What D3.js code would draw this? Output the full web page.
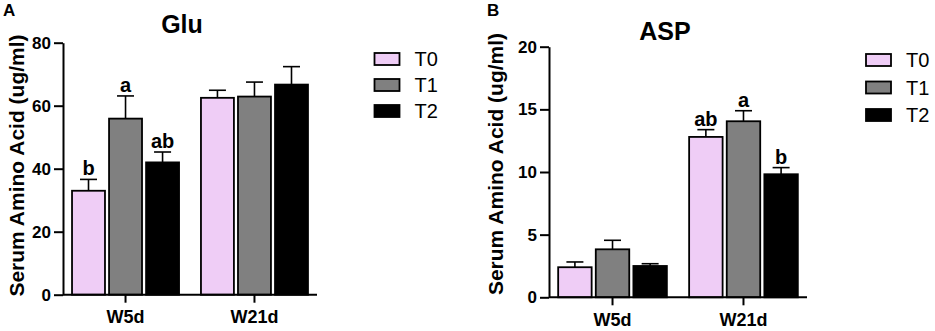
<!DOCTYPE html>
<html>
<head>
<meta charset="utf-8">
<script src="https://cdn.jsdelivr.net/npm/d3@7"></script>
<style>
  body { margin: 0; background: #fff; }
  svg { display: block; font-family: "Liberation Sans", Arial, sans-serif; }
</style>
</head>
<body>
<svg id="chart" width="935" height="331"></svg>
<script>
// data
const groups = ["W5d", "W21d"];
const treatments = ["T0", "T1", "T2"];
const treatmentColors = ["#efcdf6", "#808080", "#000000"];

// Glu (panel A): mean and mean+SEM per group, in treatment order
const gluMeans = [[33.0, 55.9, 42.0], [62.5, 62.9, 66.7]];
const gluErrTop = [[36.6, 63.1, 45.3], [64.9, 67.5, 72.4]];
const gluLetters = [["b", "a", "ab"], ["", "", ""]];
const gluTicks = [0, 20, 40, 60, 80];

// ASP (panel B)
const aspMeans = [[2.4, 3.83, 2.5], [12.8, 14.05, 9.82]];
const aspErrTop = [[2.82, 4.55, 2.68], [13.38, 14.89, 10.35]];
const aspLetters = [["", "", ""], ["ab", "a", "b"]];
const aspTicks = [0, 5, 10, 15, 20];

const svg = d3.select("#chart");

function drawPanel(opt) {
    const g = svg.append("g");

    const x0 = d3.scaleBand().domain(groups)
        .range([opt.left, opt.right])
        .paddingInner(0.17).paddingOuter(0.07);
    const x1 = d3.scaleBand().domain(treatments)
        .range([0, x0.bandwidth()])
        .paddingInner(0.11);
    const y = d3.scaleLinear().domain([0, opt.ymax]).range([opt.bottom, opt.top]);

    // flatten
    const rows = [];
    groups.forEach((grp, gi) => {
        treatments.forEach((t, ti) => {
            rows.push({
                grp, t, ti,
                v: opt.means[gi][ti],
                e: opt.err[gi][ti],
                letter: opt.letters[gi][ti]
            });
        });
    });

    // error bars (upper only), drawn before bars
    const cap = 17;
    const eb = g.append("g").attr("class", "errors")
        .attr("stroke", "#000").attr("stroke-width", 1.6).attr("fill", "none");
    rows.forEach(d => {
        const cx = x0(d.grp) + x1(d.t) + x1.bandwidth() / 2;
        eb.append("line").attr("x1", cx).attr("x2", cx)
            .attr("y1", y(d.v)).attr("y2", y(d.e));
        eb.append("line").attr("x1", cx - cap / 2).attr("x2", cx + cap / 2)
            .attr("y1", y(d.e)).attr("y2", y(d.e));
    });

    // bars
    g.append("g").selectAll("rect").data(rows).join("rect")
        .attr("x", d => x0(d.grp) + x1(d.t))
        .attr("y", d => y(d.v))
        .attr("width", x1.bandwidth())
        .attr("height", d => y(0) - y(d.v))
        .attr("fill", d => treatmentColors[d.ti])
        .attr("stroke", "#000")
        .attr("stroke-width", 1.8);

    // significance letters
    g.append("g").selectAll("text").data(rows.filter(d => d.letter)).join("text")
        .attr("x", d => x0(d.grp) + x1(d.t) + x1.bandwidth() / 2)
        .attr("y", d => y(d.e) - 4)
        .attr("text-anchor", "middle")
        .style("font-size", "20px").style("font-weight", "bold")
        .text(d => d.letter);

    // y axis
    const yAxis = g.append("g")
        .attr("transform", `translate(${opt.left},0)`)
        .call(d3.axisLeft(y).tickValues(opt.ticks).tickSize(9).tickPadding(3).tickSizeOuter(0));
    yAxis.selectAll(".tick text").style("font-size", "17px");
    // x axis
    const xAxis = g.append("g")
        .attr("transform", `translate(0,${opt.bottom})`)
        .call(d3.axisBottom(x0).tickSize(8).tickPadding(8).tickSizeOuter(0));
    xAxis.selectAll(".tick text").style("font-size", "18px");
    [yAxis, xAxis].forEach(a => {
        a.attr("font-family", null);
        a.select(".domain").attr("stroke-width", 2);
        a.selectAll(".tick line").attr("stroke-width", 2);
        a.selectAll(".tick text").style("font-weight", "bold").attr("fill", "#000");
    });
    // extend the x axis line across to the y axis
    xAxis.select(".domain").attr("d", `M${opt.left},0H${opt.right}`);

    // y title
    g.append("text")
        .attr("transform", `translate(${opt.ytitleX},${opt.ytitleY}) rotate(-90)`)
        .attr("text-anchor", "middle")
        .style("font-size", "21px").style("font-weight", "bold")
        .text("Serum Amino Acid (ug/ml)");

    // title and panel letter
    g.append("text").attr("x", opt.titleX).attr("y", opt.titleY)
        .attr("text-anchor", "middle")
        .style("font-size", "25px").style("font-weight", "bold")
        .text(opt.title);
    g.append("text").attr("x", opt.tagX).attr("y", 16)
        .style("font-size", "17px").style("font-weight", "bold")
        .text(opt.tag);

    // legend
    const leg = g.append("g").attr("transform", `translate(${opt.legX},${opt.legY})`);
    treatments.forEach((t, i) => {
        const row = leg.append("g").attr("transform", `translate(0,${i * opt.legStep})`);
        row.append("rect").attr("x", 0).attr("y", 0).attr("width", 25).attr("height", 12)
            .attr("fill", treatmentColors[i]).attr("stroke", "#000").attr("stroke-width", 1.8);
        row.append("text").attr("x", 40).attr("y", 6).attr("dy", "0.36em")
            .style("font-size", "20px")
            .text(t);
    });
}

drawPanel({
    tag: "A", tagX: 3, title: "Glu", titleX: 182, titleY: 33,
    left: 63, right: 317, top: 42.7, bottom: 294.7, ymax: 80, ticks: gluTicks,
    means: gluMeans, err: gluErrTop, letters: gluLetters,
    ytitleX: 24, ytitleY: 165.5, legX: 374.5, legY: 53, legStep: 26
});

drawPanel({
    tag: "B", tagX: 487, title: "ASP", titleX: 665, titleY: 40,
    left: 549, right: 807, top: 46.7, bottom: 297.3, ymax: 20, ticks: aspTicks,
    means: aspMeans, err: aspErrTop, letters: aspLetters,
    ytitleX: 503, ytitleY: 164, legX: 866, legY: 54, legStep: 27.5
});
</script>
</body>
</html>
